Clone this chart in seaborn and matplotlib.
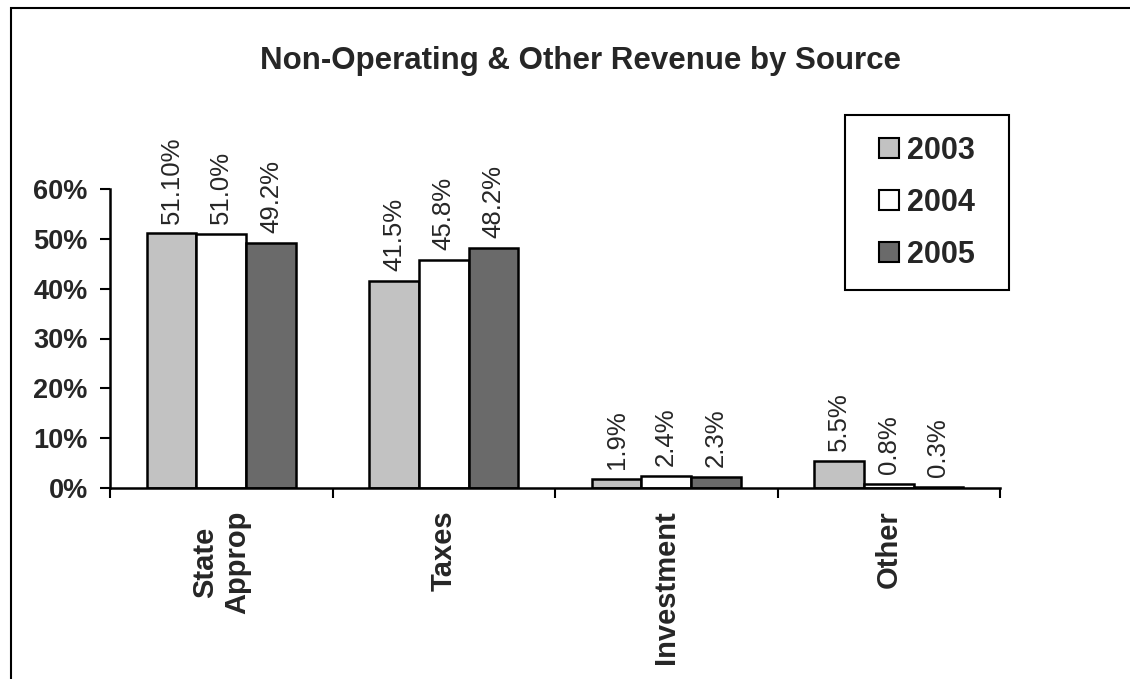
import pandas as pd
import matplotlib.pyplot as plt
import seaborn as sns
from matplotlib.patches import Rectangle

sns.set_style("ticks")
plt.rcParams['font.family'] = ['Liberation Sans', 'DejaVu Sans']

# ---------- data ----------
categories = ['State\nApprop', 'Taxes', 'Investment', 'Other']
years = ['2003', '2004', '2005']
vals_2003 = [51.1, 41.5, 1.9, 5.5]
vals_2004 = [51.0, 45.8, 2.4, 0.8]
vals_2005 = [49.2, 48.2, 2.3, 0.3]
labels_2003 = ['51.10%', '41.5%', '1.9%', '5.5%']
labels_2004 = ['51.0%', '45.8%', '2.4%', '0.8%']
labels_2005 = ['49.2%', '48.2%', '2.3%', '0.3%']
yticks = [0, 10, 20, 30, 40, 50, 60]

colors = ['#c2c2c2', '#ffffff', '#6a6a6a']

df = pd.DataFrame({
    'source': categories * 3,
    'year': [y for y in years for _ in categories],
    'pct': vals_2003 + vals_2004 + vals_2005,
})

# ---------- plot ----------
W, H = 1130, 679
fig = plt.figure(figsize=(W / 100, H / 100), dpi=100)
ax = fig.add_axes([110 / W, 1 - 488 / H, 890 / W, 299 / H])

sns.barplot(data=df, x='source', y='pct', hue='year', order=categories,
            hue_order=years, palette=colors, width=0.67, edgecolor='black',
            linewidth=1.8, saturation=1, ax=ax, legend=True)

for container, labs in zip(ax.containers, [labels_2003, labels_2004, labels_2005]):
    ax.bar_label(container, labels=labs, rotation=90, padding=7, fontsize=18.5)

ax.set_ylim(0, 60)
ax.set_xlim(-0.5, 3.5)
ax.set_yticks(yticks)
ax.set_yticklabels([f'{t}%' for t in yticks], fontsize=19.5, fontweight='bold')
ax.set_xticks(range(len(categories)))
ax.set_xticklabels(categories, rotation=90, fontsize=21, fontweight='bold',
                   va='top', ha='center', multialignment='center')
ax.set_xticks([-0.5, 0.5, 1.5, 2.5, 3.5], minor=True)
ax.tick_params(axis='x', which='major', length=0, pad=16)
ax.tick_params(axis='x', which='minor', length=7, width=1.5, color='black')
ax.tick_params(axis='y', length=7, width=1.5, color='black', pad=9)
ax.set_xlabel('')
ax.set_ylabel('')
sns.despine(ax=ax)
for s in ['left', 'bottom']:
    ax.spines[s].set_linewidth(1.8)
    ax.spines[s].set_color('black')

# legend: entries without frame, box drawn separately
leg = ax.legend(loc='center', bbox_to_anchor=(927 / W, 1 - 203 / H),
                bbox_transform=fig.transFigure, frameon=False,
                prop={'size': 22, 'weight': 'bold'}, handlelength=0.65,
                handleheight=0.65, handletextpad=0.25, labelspacing=0.72,
                borderpad=0, borderaxespad=0)
for h in leg.legend_handles:
    h.set_edgecolor('black')
    h.set_linewidth(1.5)
fig.patches.append(Rectangle((845 / W, 1 - 290 / H), 164 / W, 175 / H,
                             transform=fig.transFigure, fill=False,
                             edgecolor='black', linewidth=1.5))

fig.text(580 / W, 1 - 61 / H, 'Non-Operating & Other Revenue by Source',
         ha='center', va='center', fontsize=22.5, fontweight='bold')

# outer frame around the chart
fig.patches.append(Rectangle((11 / W, -0.05), 1.2, 1.05 - 8 / H,
                             transform=fig.transFigure, fill=False,
                             edgecolor='black', linewidth=1.5))

plt.savefig('out.png', dpi=100)
plt.close()
